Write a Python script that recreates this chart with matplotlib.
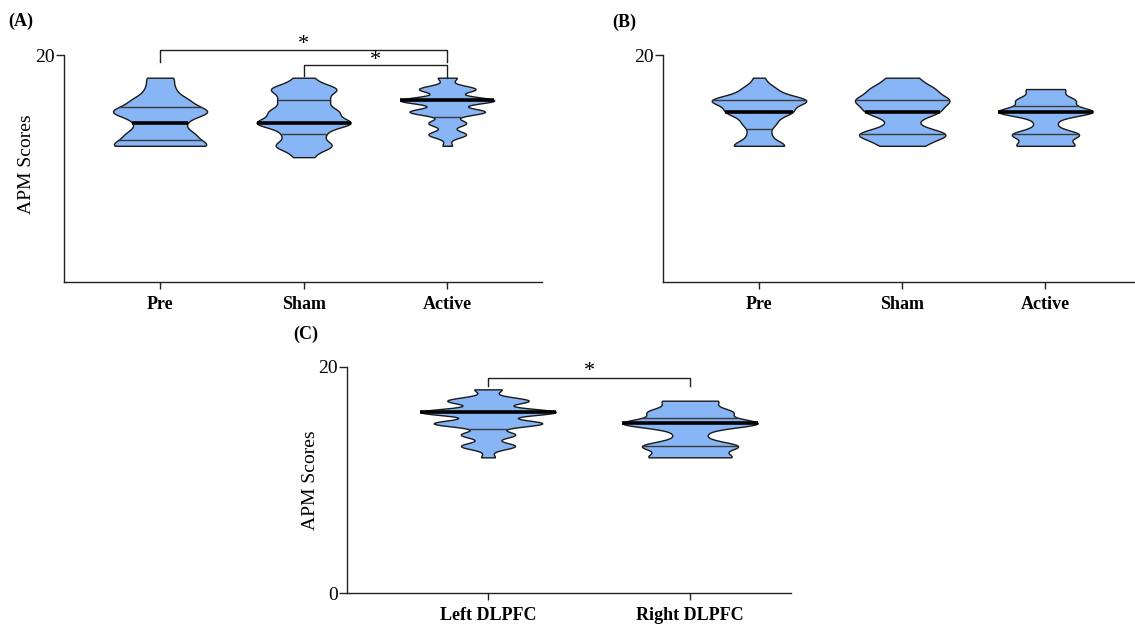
import numpy as np
import matplotlib.pyplot as plt

plt.rcParams['font.family'] = ['Liberation Serif', 'DejaVu Serif']

FILL = '#87B5F5'

# integer APM scores and how many subjects got each
a_pre_scores = [12, 13, 14, 15, 16, 17, 18]
a_pre_counts = [18, 12, 8, 18, 10, 5, 5]
a_sham_scores = [11, 12, 13, 14, 15, 16, 17, 18]
a_sham_counts = [2, 6, 4, 10, 7, 5, 7, 2]
a_act_scores = [12, 13, 14, 15, 16, 17, 18]
a_act_counts = [1, 4, 4, 8, 10, 6, 2]

b_pre_scores = [12, 13, 14, 15, 16, 17, 18]
b_pre_counts = [5, 2, 3, 6, 9, 3, 1]
b_sham_scores = [12, 13, 14, 15, 16, 17, 18]
b_sham_counts = [4, 9, 2, 7, 9, 6, 3]
b_act_scores = [12, 13, 14, 15, 16, 17]
b_act_counts = [6, 7, 2, 10, 6, 4]

c_left_scores = [12, 13, 14, 15, 16, 17, 18]
c_left_counts = [1, 4, 4, 8, 10, 6, 2]
c_right_scores = [12, 13, 14, 15, 16, 17]
c_right_counts = [6, 7, 2, 10, 6, 4]

# quartile lines: [Q1, median, Q3]
a_quarts = [[12.5, 14, 15.4], [13, 14, 16], [14.5, 16, 16]]
b_quarts = [[13.5, 15, 16], [13, 15, 16], [13, 15, 15.5]]
c_quarts = [[14.5, 16, 16], [13, 15, 15.5]]

a_labels = ['Pre', 'Sham', 'Active']
b_labels = ['Pre', 'Sham', 'Active']
c_labels = ['Left DLPFC', 'Right DLPFC']


def violin(ax, pos, scores, counts, quarts, bw, width):
    data = np.repeat(scores, counts).astype(float)
    parts = ax.violinplot([data], positions=[pos], widths=width, showextrema=False,
                          points=600, bw_method=bw / data.std(ddof=1))
    body = parts['bodies'][0]
    body.set_facecolor(FILL)
    body.set_edgecolor('#1a1a1a')
    body.set_linewidth(1.0)
    body.set_alpha(1)
    v = body.get_paths()[0].vertices
    right = v[v[:, 0] > pos]
    order = np.argsort(right[:, 1])
    ys, xs = right[order, 1], right[order, 0] - pos
    q1, med, q3 = quarts
    for q in (q1, q3):
        h = np.interp(q, ys, xs)
        ax.plot([pos - h, pos + h], [q, q], color='#3a3a3a', lw=1.0,
                solid_capstyle='butt', zorder=3)
    h = np.interp(med, ys, xs)
    ax.plot([pos - h, pos + h], [med, med], color='black', lw=2.6,
            solid_capstyle='butt', zorder=4)


def setup(ax, labels, xlim, yticks):
    ax.set_xlim(*xlim)
    ax.set_ylim(0, 20)
    for s in ['top', 'right']:
        ax.spines[s].set_visible(False)
    for s in ['left', 'bottom']:
        ax.spines[s].set_linewidth(1.0)
        ax.spines[s].set_color('#222222')
    ax.set_xticks(range(1, len(labels) + 1))
    ax.set_xticklabels(labels, fontweight='bold', fontsize=13)
    ax.set_yticks(yticks)
    ax.tick_params(axis='y', length=6, width=1, labelsize=14, pad=0.5, color='#222222')
    ax.tick_params(axis='x', length=5, width=1, pad=5, color='#222222')


def bracket(ax, x1, x2, y, y1, y2, star_y):
    ax.plot([x1, x1, x2, x2], [y1, y, y, y2], color='#222222', lw=1.0, clip_on=False)
    ax.text((x1 + x2) / 2, star_y, '*', ha='center', va='center', fontsize=16, clip_on=False)


fig = plt.figure(figsize=(11.35, 6.26), dpi=100)
ax_a = fig.add_axes([64 / 1135, 344 / 626, 478 / 1135, 227 / 626])
ax_b = fig.add_axes([663 / 1135, 344 / 626, 472 / 1135, 227 / 626])
ax_c = fig.add_axes([347 / 1135, 32.7 / 626, 444 / 1135, 226.6 / 626])

# panel A
violin(ax_a, 1, a_pre_scores, a_pre_counts, a_quarts[0], 0.5, 0.655)
violin(ax_a, 2, a_sham_scores, a_sham_counts, a_quarts[1], 0.45, 0.655)
violin(ax_a, 3, a_act_scores, a_act_counts, a_quarts[2], 0.3, 0.655)
setup(ax_a, a_labels, (0.331, 3.66), [20])
ax_a.set_ylabel('APM Scores', fontsize=14)
ax_a.yaxis.set_label_coords(-0.061, 0.52)
bracket(ax_a, 1, 3, 20.45, 19.41, 19.41, 20.95)
bracket(ax_a, 2, 3, 19.12, 18.15, 17.95, 19.55)

# panel B
violin(ax_b, 1, b_pre_scores, b_pre_counts, b_quarts[0], 0.45, 0.66)
violin(ax_b, 2, b_sham_scores, b_sham_counts, b_quarts[1], 0.5, 0.66)
violin(ax_b, 3, b_act_scores, b_act_counts, b_quarts[2], 0.4, 0.66)
setup(ax_b, b_labels, (0.33, 3.625), [20])

# panel C
violin(ax_c, 1, c_left_scores, c_left_counts, c_quarts[0], 0.3, 0.67)
violin(ax_c, 2, c_right_scores, c_right_counts, c_quarts[1], 0.4, 0.67)
setup(ax_c, c_labels, (0.302, 2.5), [0, 20])
ax_c.set_ylabel('APM Scores', fontsize=14)
ax_c.yaxis.set_label_coords(-0.063, 0.5)
bracket(ax_c, 1, 2, 19.0, 18.3, 18.3, 19.6)

fig.text(8 / 1135, 1 - 21 / 626, '(A)', fontsize=13, fontweight='bold', va='center')
fig.text(612 / 1135, 1 - 22 / 626, '(B)', fontsize=13, fontweight='bold', va='center')
fig.text(293 / 1135, 1 - 334 / 626, '(C)', fontsize=13, fontweight='bold', va='center')

fig.savefig('out.png', dpi=100)
